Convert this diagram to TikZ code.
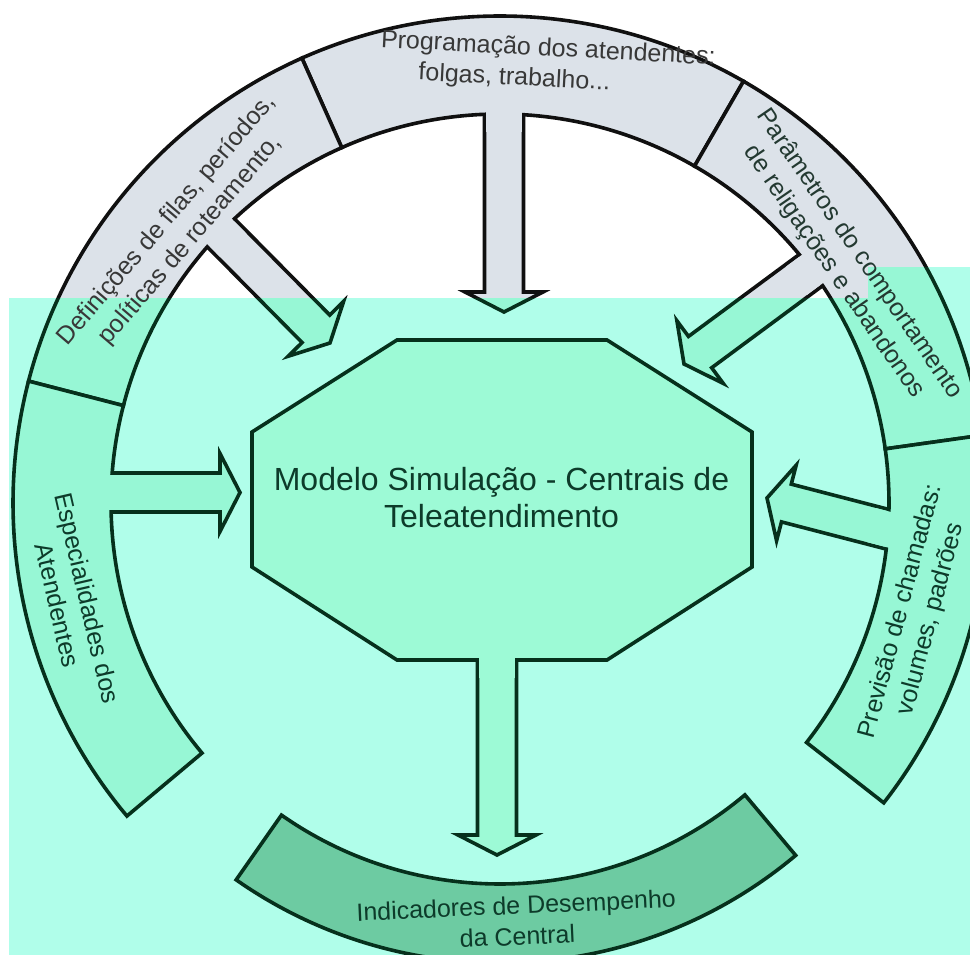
\documentclass[tikz,border=0pt]{standalone}
\usepackage{fontspec}
\setmainfont{Liberation Sans}
\usetikzlibrary{calc}

\definecolor{grayfill}{HTML}{DCE2E9}
\definecolor{grayline}{HTML}{101010}
\definecolor{graytext}{HTML}{383838}
\definecolor{midtext}{HTML}{233931}
\definecolor{bgcyan}{HTML}{B0FEEA}
\definecolor{greenring}{HTML}{97F7D5}
\definecolor{greenoct}{HTML}{9DFAD6}
\definecolor{greenbot}{HTML}{6DCBA2}
\definecolor{greenline}{HTML}{06301C}
\definecolor{greentext}{HTML}{0D3B2A}

\tikzset{
  shape line/.style={draw=linecol, line width=3.6pt, line join=miter, miter limit=10},
  lbl/.style={font=\fontsize{25}{31}\selectfont, inner sep=0pt, align=center},
  ctr/.style={font=\fontsize{32}{37}\selectfont, text=greentext, inner sep=0pt, align=center}
}

\newcommand\myArrow[3]{%
  \path[shape line, fill=#3] let \p1=($(#2)-(#1)$), \n1={atan2(\y1,\x1)}, \n2={veclen(\x1,\y1)} in
    ($(#1)+(\n1+90:19.5)$) -- ($(#1)+(\n1:\n2-20)+(\n1+90:19.5)$) -- ($(#1)+(\n1:\n2-20)+(\n1+90:39)$)
    -- (#2) -- ($(#1)+(\n1:\n2-20)+(\n1-90:39)$) -- ($(#1)+(\n1:\n2-20)+(\n1-90:19.5)$)
    -- ($(#1)+(\n1-90:19.5)$) -- cycle;}
\newcommand\myPatch[3]{%
  \fill[#3] let \p1=($(#2)-(#1)$), \n1={atan2(\y1,\x1)} in
    ($(#1)+(\n1:22)+(\n1+90:17.6)$) -- ($(#1)+(\n1:58)+(\n1+90:17.6)$)
    -- ($(#1)+(\n1:58)+(\n1-90:17.6)$) -- ($(#1)+(\n1:22)+(\n1-90:17.6)$) -- cycle;}
\newcommand\mySeg[5]{%
  \path[shape line, fill=#5] ($(C)+(#1:#3)$) arc[start angle=#1, end angle=#2, radius=#3]
    -- ($(C)+(#2:#4)$) arc[start angle=#2, end angle=#1, radius=#4] -- cycle;}

\newcommand\myScene{%
  % Programacao
  \myArrow{sA}{tA}{ringfill}
  \mySeg{60}{114}{389}{487}{ringfill}
  \myPatch{sA}{tA}{ringfill}
  % Definicoes
  \myArrow{sB}{tB}{ringfill}
  \mySeg{114}{165.5}{389}{487}{ringfill}
  \myPatch{sB}{tB}{ringfill}
  % Especialidades
  \myArrow{sD}{tD}{ringfill}
  \mySeg{165.5}{220}{389}{487}{ringfill}
  \myPatch{sD}{tD}{ringfill}
  % Parametros
  \myArrow{sC}{tC}{ringfill}
  \mySeg{8}{60}{389}{487}{ringfill}
  \myPatch{sC}{tC}{ringfill}
  % Previsao
  \myArrow{sE}{tE}{ringfill}
  \mySeg{-38}{8}{389}{487}{ringfill}
  \myPatch{sE}{tE}{ringfill}
  % Indicadores
  \mySeg{235}{310}{381}{460}{botfill}
  % central octagon
  \myArrow{sF}{tF}{octfill}
  \path[shape line, fill=octfill] (o1) -- (o2) -- (o3) -- (o4) -- (o5) -- (o6) -- (o7) -- (o8) -- cycle;
  \myPatch{sF}{tF}{octfill}
}

\begin{document}
\begin{tikzpicture}[x=1pt,y=1pt]
  \useasboundingbox (0,0) rectangle (970,-955);
  \fill[white] (0,0) rectangle (970,-955);
  \coordinate (C) at (500,-503);
  \coordinate (sA) at (504,-74);     \coordinate (tA) at (504,-312);
  \coordinate (sB) at (192.1,-203.7); \coordinate (tB) at (330,-343);
  \coordinate (sC) at (843.2,-246.2); \coordinate (tC) at (684,-364);
  \coordinate (sD) at (71,-492.5);   \coordinate (tD) at (240,-492.5);
  \coordinate (sE) at (927.4,-539.6); \coordinate (tE) at (767,-498);
  \coordinate (sF) at (497,-620);    \coordinate (tF) at (497,-855);
  \coordinate (o1) at (397,-340); \coordinate (o2) at (607,-340);
  \coordinate (o3) at (752,-432); \coordinate (o4) at (752,-567);
  \coordinate (o5) at (607,-660); \coordinate (o6) at (397,-660);
  \coordinate (o7) at (252,-567); \coordinate (o8) at (252,-432);
  % upper (untinted) part
  \begin{scope}
    \clip (0,0) -- (970,0) -- (970,-267) -- (868,-267) -- (868,-298) -- (9,-298) -- (9,-955) -- (0,-955) -- cycle;
    \colorlet{ringfill}{grayfill}\colorlet{octfill}{grayfill}\colorlet{botfill}{grayfill}
    \colorlet{linecol}{grayline}
    \myScene
  \end{scope}
  % lower (cyan tinted) part
  \begin{scope}
    \clip (9,-298) -- (868,-298) -- (868,-267) -- (970,-267) -- (970,-955) -- (9,-955) -- cycle;
    \fill[bgcyan] (0,0) rectangle (970,-955);
    \colorlet{ringfill}{greenring}\colorlet{octfill}{greenoct}\colorlet{botfill}{greenbot}
    \colorlet{linecol}{greenline}
    \myScene
  \end{scope}
  % labels (drawn once)
  \node[ctr] (main) at (501.5,-498) {Modelo Simulação - Centrais de\\Teleatendimento};
  \node[lbl, text=graytext, anchor=base, rotate=-3] (progA) at (548,-56) {Programação dos atendentes:};
  \node[lbl, text=graytext, anchor=base, rotate=-3] (progB) at (514,-85) {folgas, trabalho...};
  \node[lbl, text=graytext, rotate=49.5] (def) at ($(C)+(139.65:421.5)$) {Definições de filas, períodos,\\políticas de roteamento,};
  \node[lbl, text=midtext, rotate=-55.5] (par) at ($(C)+(34.7:421.5)$) {Parâmetros do comportamento\\de religações e abandonos};
  \node[lbl, text=greentext, rotate=75] (prev) at ($(C)+(-15.1:431)$) {Previsão de chamadas:\\volumes, padrões};
  \node[lbl, text=greentext, rotate=-77] (esp) at ($(C)+(193:438.5)$) {Especialidades dos\\Atendentes};
  \node[lbl, text=greentext, rotate=2.5] (ind) at ($(C)+(272.3:418)$) {Indicadores de Desempenho\\da Central};
\end{tikzpicture}
\end{document}
